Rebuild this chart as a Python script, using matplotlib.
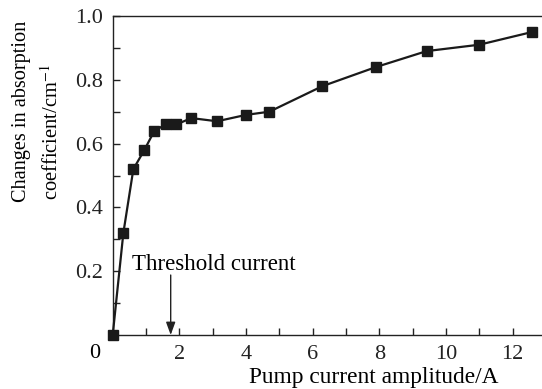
import matplotlib
matplotlib.use("Agg")
import matplotlib.pyplot as plt

plt.rcParams['font.family'] = ['Liberation Serif', 'DejaVu Serif']
plt.rcParams['mathtext.fontset'] = 'stix'

# Data
current = [0.0, 0.32, 0.62, 0.95, 1.25, 1.59, 1.91, 2.36, 3.13, 4.0, 4.7, 6.29, 7.9, 9.42, 11.0, 12.59]
absorption = [0.0, 0.32, 0.52, 0.58, 0.64, 0.66, 0.66, 0.68, 0.67, 0.69, 0.70, 0.78, 0.84, 0.89, 0.91, 0.95]
threshold = 1.74
xticks = [2, 4, 6, 8, 10, 12]
yticks = [0.2, 0.4, 0.6, 0.8, 1.0]

FS = 16

fig = plt.figure(figsize=(5.42, 3.89), dpi=100)
ax = fig.add_axes([112.7 / 542, 54 / 389, 1 - 112.7 / 542, 319 / 389])

ax.plot(current, absorption, color='#1a1a1a', lw=1.6, marker='s', ms=6.5, clip_on=False, zorder=3)

ax.set_xlim(0, 12.88)
ax.set_ylim(0, 1.0)
ax.spines['right'].set_visible(False)
for s in ['left', 'bottom', 'top']:
    ax.spines[s].set_linewidth(1.0)
    ax.spines[s].set_color('#222222')

ax.set_xticks(range(1, 13))
ax.set_xticklabels([str(i) if i in xticks else '' for i in range(1, 13)])
yt = [round(0.1 * i, 1) for i in range(1, 11)]
ax.set_yticks(yt)
ax.set_yticklabels([f"{v:.1f}" if any(abs(v - t) < 1e-6 for t in yticks) else '' for v in yt])
ax.tick_params(direction='in', length=5, width=1.0, labelsize=FS, colors='#222222')
ax.tick_params(axis='y', pad=7)
ax.tick_params(axis='x', pad=7.5)

# origin label
ax.annotate('0', xy=(0, 0), xytext=(-18, -18), textcoords='offset pixels',
            ha='center', va='center', fontsize=FS, annotation_clip=False)

# threshold arrow
ax.annotate('', xy=(threshold, 0.0), xytext=(threshold, 0.188),
            arrowprops=dict(arrowstyle='-|>,head_length=0.55,head_width=0.2', color='#222222',
                            lw=1.0, mutation_scale=14, shrinkA=0, shrinkB=0))
ax.text(0.57, 0.204, 'Threshold current', fontsize=16.5, va='baseline', ha='left')

fig.text(374 / 542, 1 - 383 / 389, 'Pump current amplitude/A', fontsize=16.8, ha='center', va='baseline')
fig.text(22 / 542, 1 - 202 / 389, 'Changes in absorption', fontsize=14.6,
         rotation=90, ha='center', va='bottom')
fig.text(52 / 542, 1 - 200 / 389, 'coefficient/cm$^{-1}$', fontsize=14.8,
         rotation=90, ha='center', va='bottom')

fig.savefig('out.png', dpi=100)
